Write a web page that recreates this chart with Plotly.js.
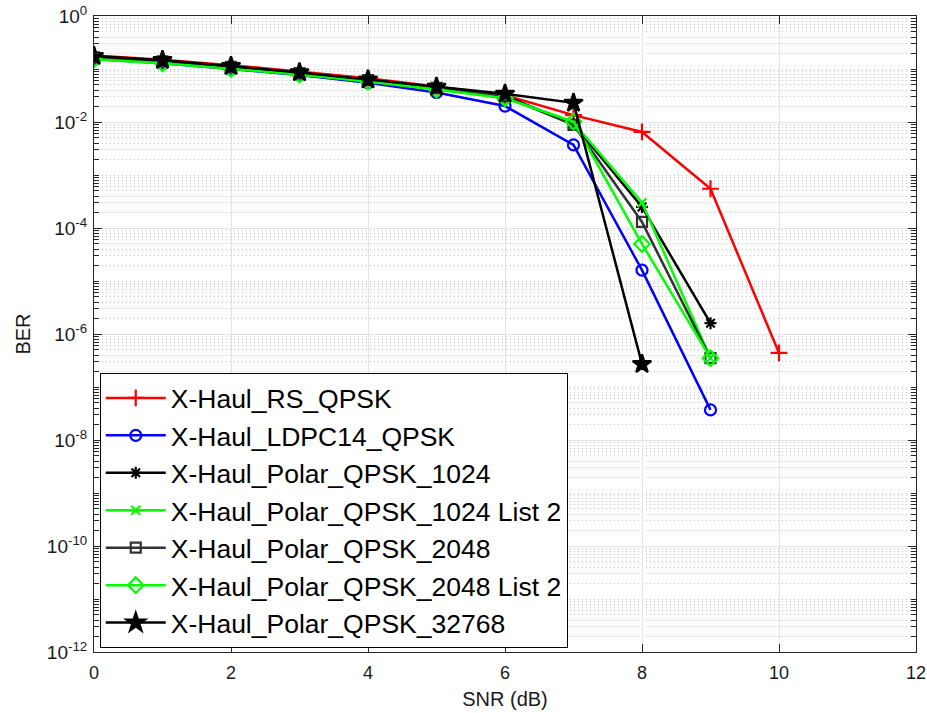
<!DOCTYPE html>
<html>
<head>
<meta charset="utf-8">
<script src="https://cdn.plot.ly/plotly-3.0.1.min.js"></script>
<style>html,body{margin:0;padding:0;background:#fff;}#chart{width:927px;height:713px;}</style>
</head>
<body>
<div id="chart"></div>
<script>
// SNR (dB) values for each series
const snrRS = [0,1,2,3,4,5,6,7,8,9,10];
const snr9 = [0,1,2,3,4,5,6,7,8,9];
const snr8 = [0,1,2,3,4,5,6,7,8];

// BER values
const berRS      = [0.18, 0.15, 0.118, 0.09, 0.067, 0.047, 0.032, 0.0135, 0.0065, 5.5e-4, 4.4e-7];
const berLDPC    = [0.155, 0.128, 0.1, 0.077, 0.055, 0.036, 0.02, 0.0037, 1.6e-5, 3.7e-8];
const berP1024   = [0.17, 0.143, 0.112, 0.085, 0.063, 0.045, 0.031, 0.0092, 2.5e-4, 1.6e-6];
const berP1024L2 = [0.155, 0.13, 0.103, 0.08, 0.059, 0.042, 0.029, 0.0098, 3.0e-4, 3.5e-7];
const berP2048   = [0.165, 0.14, 0.11, 0.084, 0.062, 0.044, 0.03, 0.0088, 1.3e-4, 3.5e-7];
const berP2048L2 = [0.152, 0.128, 0.101, 0.079, 0.058, 0.041, 0.028, 0.0102, 5.0e-5, 3.5e-7];
const berP32768  = [0.175, 0.147, 0.113, 0.086, 0.063, 0.046, 0.034, 0.023, 2.7e-7];

const names = ["X-Haul_RS_QPSK","X-Haul_LDPC14_QPSK","X-Haul_Polar_QPSK_1024",
  "X-Haul_Polar_QPSK_1024 List 2","X-Haul_Polar_QPSK_2048","X-Haul_Polar_QPSK_2048 List 2",
  "X-Haul_Polar_QPSK_32768"];

// y tick labels
const yTickExps = [0,-2,-4,-6,-8,-10,-12];
const yTickVals = yTickExps.map(e => Math.pow(10, e));
const yTickText = yTickExps.map(e => "10<sup>" + (e === 0 ? "0" : e) + "</sup>");

// minor ticks / grid positions (every 1..9 x 10^k that is not a major tick)
const yMinor = [];
for (let d = -12; d < 0; d++) {
  for (let k = 1; k <= 9; k++) {
    if (k === 1 && d % 2 === 0) continue;
    yMinor.push(k * Math.pow(10, d));
  }
}

function tr(x, y, name, color, symbol, msize, lw) {
  return {
    x: x, y: y, name: name, type: "scatter", mode: "lines+markers",
    legendgroup: name,
    line: {color: color, width: lw || 2.5},
    marker: {symbol: symbol, size: msize, color: color,
             line: {color: color, width: 2.2}}
  };
}

const data = [
  tr(snrRS, berRS, names[0], "#ff0000", "cross-thin-open", 12),
  tr(snr9, berLDPC, names[1], "#0000ff", "circle-open", 11),
  tr(snr9, berP1024, names[2], "#000000", "asterisk-open", 10),
  tr(snr9, berP1024L2, names[3], "#00ff00", "x-thin-open", 9),
  tr(snr9, berP2048, names[4], "#333333", "square-open", 10),
  tr(snr9, berP2048L2, names[5], "#00ff00", "diamond-open", 12),
  tr(snr8, berP32768, names[6], "#000000", "star", 14)
];

const layout = {
  width: 927, height: 713,
  margin: {l: 94, r: 11, t: 16, b: 61},
  paper_bgcolor: "#ffffff", plot_bgcolor: "#ffffff",
  font: {family: "Liberation Sans, Arial, sans-serif", color: "#1a1a1a", size: 18},
  showlegend: true,
  legend: {
    x: 0.007, y: 0.006, xanchor: "left", yanchor: "bottom",
    bgcolor: "#ffffff", bordercolor: "#000000", borderwidth: 1,
    font: {size: 26.5, color: "#000000"},
    itemwidth: 60, traceorder: "grouped", tracegroupgap: 0
  },
  xaxis: {
    range: [0, 12], tickmode: "array", tickvals: [0,2,4,6,8,10,12],
    ticks: "inside", ticklen: 8, tickcolor: "#262626",
    showline: true, linecolor: "#262626", linewidth: 1, mirror: "ticks",
    showgrid: true, gridcolor: "#e3e3e3", gridwidth: 1, zeroline: false,
    tickfont: {size: 18}, ticklabelstandoff: 4,
    title: {text: "SNR (dB)", font: {size: 20}, standoff: 10}
  },
  yaxis: {
    type: "log", range: [-12, 0],
    tickmode: "array", tickvals: yTickVals, ticktext: yTickText,
    ticks: "inside", ticklen: 8, tickcolor: "#262626",
    showline: true, linecolor: "#262626", linewidth: 1, mirror: "ticks",
    showgrid: true, gridcolor: "#e3e3e3", gridwidth: 1, zeroline: false,
    tickfont: {size: 19}, ticklabelstandoff: 2,
    minor: {tickmode: "array", tickvals: yMinor, ticks: "inside", ticklen: 5,
            tickcolor: "#262626", showgrid: true, gridcolor: "#c4c4c4",
            griddash: "1px,3px", gridwidth: 1},
    title: {text: "BER", font: {size: 20}, standoff: 10}
  }
};

Plotly.newPlot("chart", data, layout, {displayModeBar: false, staticPlot: true});
</script>
</body>
</html>
